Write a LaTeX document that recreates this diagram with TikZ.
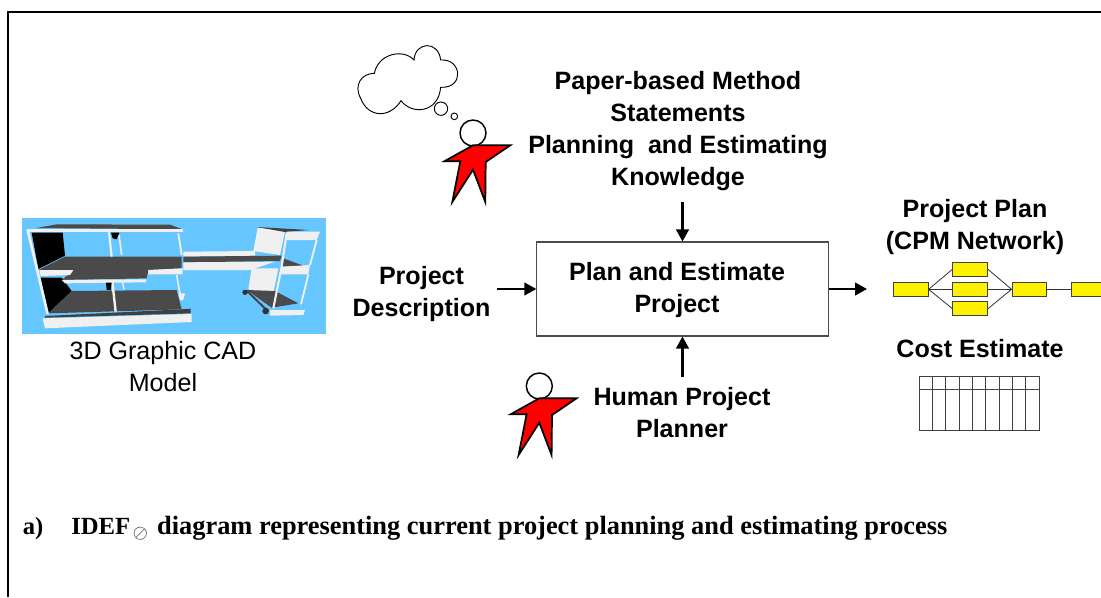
\documentclass[tikz,border=0pt]{standalone}
\usepackage{fontspec}
\setmainfont{Liberation Sans}
\newfontfamily\serifcap{Liberation Serif}
\usetikzlibrary{arrows.meta}
\definecolor{skyb}{HTML}{66C6FF}
\definecolor{slab}{HTML}{4A4A4A}
\definecolor{pale}{HTML}{F0F0F0}
\tikzset{
  lbl/.style={font=\fontsize{18.8pt}{24pt}\selectfont\bfseries,align=center,text=black,inner sep=0pt},
  reg/.style={font=\fontsize{18.8pt}{24pt}\selectfont,align=center,text=black,inner sep=0pt},
  capt/.style={anchor=base west,inner sep=0pt,font=\serifcap\fontsize{18.5pt}{22pt}\selectfont\bfseries},
  arr/.style={line width=1.7pt,-{Triangle[length=9pt,width=9.5pt]}},
  procbox/.style={draw=black!70,line width=0.8pt,fill=white,minimum width=218.5pt,minimum height=70.5pt,inner sep=0pt},
  act/.style={draw=black!75,line width=0.7pt,fill=yellow,minimum width=26pt,minimum height=10.5pt,inner sep=0pt},
  link/.style={draw=black!80,line width=0.6pt},
  tbl/.style={draw=black!75,line width=0.7pt},
  figbody/.style={draw=black,line width=1.3pt,fill=red,line join=miter},
  fighead/.style={draw=black,line width=1.1pt,fill=white},
  cloudline/.style={draw=black,line width=0.7pt,fill=white},
  person/.pic={
    \draw[fighead] (0,0) circle[radius=13];
    \draw[figbody] (0,12.3) -- (37.3,12.3) -- (12.7,29) -- (12.3,69) -- (0,36.7) -- (-20.7,69) -- (-12.7,28.3) -- (-28.7,28.3) -- cycle;
  }
}
\begin{document}
\begin{tikzpicture}[x=0.75pt,y=-0.75pt]
\useasboundingbox (0,0) rectangle (1101,597);
% frame
\draw[line width=1.5pt,line cap=butt] (8,597) -- (8,12) -- (1101,12);

% CAD model picture
\begin{scope}[shift={(0,200)},x=0.25pt,y=-0.25pt]
\fill[skyb] (66,54) rectangle (978,402);
% left building
\fill[slab] (110,84) -- (170,73) -- (510,74) -- (548,88) -- cycle;
\fill[black] (95,98) -- (188,98) -- (195,167) -- (115,207) -- cycle;
\fill[slab] (195,170) -- (545,170) -- (545,205) -- (445,210) -- (440,235) -- (185,240) -- (220,212) -- (115,210) -- cycle;
\fill[black] (122,233) -- (185,233) -- (215,273) -- (145,340) -- cycle;
\fill[slab] (215,273) -- (530,270) -- (545,328) -- (145,340) -- cycle;
\fill[pale] (128,355) -- (575,342) -- (575,366) -- (135,385) -- cycle;
\fill[black!75] (135,348) -- (545,328) -- (572,326) -- (572,340) -- (135,353) -- cycle;
\fill[pale] (118,210) -- (220,210) -- (210,225) -- (122,228) -- cycle;
\fill[pale] (185,240) -- (438,238) -- (438,247) -- (195,250) -- cycle;
\fill[pale] (445,210) -- (548,205) -- (548,223) -- (445,223) -- cycle;
\draw[pale,line width=2pt] (82,92) -- (550,92);
\draw[pale,line width=2pt] (83,90) -- (143,342);
\draw[pale,line width=1.6pt] (327,97) -- (335,170);
\draw[pale,line width=1.2pt] (357,105) -- (365,165);
\draw[pale,line width=1.8pt] (337,245) -- (347,335);
\draw[pale,line width=1pt] (367,245) -- (372,268);
\draw[pale,line width=1.4pt] (535,100) -- (545,165);
\draw[pale,line width=1.2pt] (530,225) -- (543,300);
\fill[black] (333,98) -- (358,98) -- (350,118) -- (338,115) -- cycle;
\fill[black] (318,248) -- (335,248) -- (332,270) -- (320,270) -- cycle;
\fill[pale] (535,280) -- (555,280) -- (550,300) -- (540,300) -- cycle;
% walkway
\fill[pale] (550,155) -- (765,153) -- (765,167) -- (550,170) -- cycle;
\fill[slab] (550,170) -- (845,167) -- (840,183) -- (550,187) -- cycle;
\fill[pale] (550,187) -- (825,185) -- (750,210) -- (550,210) -- cycle;
% right building
\fill[pale] (773,83) -- (855,93) -- (840,165) -- (760,153) -- cycle;
\fill[pale] (755,205) -- (835,205) -- (815,303) -- (745,267) -- cycle;
\fill[black!75] (770,81) -- (925,90) -- (855,96) -- cycle;
\fill[pale] (860,95) -- (960,95) -- (950,120) -- (860,120) -- cycle;
\fill[slab] (850,175) -- (910,197) -- (845,200) -- cycle;
\fill[pale] (845,200) -- (930,195) -- (925,223) -- (840,223) -- cycle;
\fill[slab] (740,270) -- (825,273) -- (895,310) -- (815,323) -- cycle;
\fill[pale] (810,330) -- (915,330) -- (910,345) -- (810,347) -- cycle;
\draw[pale,line width=1.4pt] (950,120) -- (930,195);
\draw[pale,line width=1.4pt] (925,223) -- (903,313);
\draw[pale,line width=1.6pt] (860,100) -- (845,200) -- (820,325);
\draw[black!75,line width=1.4pt] (740,272) -- (800,330);
\fill[black!80] (735,277) circle[radius=8];
\fill[black!80] (797,333) circle[radius=10];
\end{scope}
\node[reg] (cad) at (163,367) {3D Graphic CAD\\Model};

% cloud and thinker
\begin{scope}[shift={(340,30)},x=0.25pt,y=-0.25pt]
\draw[cloudline] (103,130) .. controls (115,70) and (190,55) .. (222,90)
  .. controls (225,35) and (295,30) .. (302,90)
  .. controls (365,85) and (375,175) .. (302,172)
  .. controls (295,250) and (215,255) .. (183,212)
  .. controls (150,265) and (85,265) .. (62,205)
  .. controls (40,165) and (65,130) .. (103,130) -- cycle;
\draw[cloudline] (303,236) circle[radius=20];
\draw[cloudline] (343,259) circle[radius=10];
\end{scope}
\pic at (473,133) {person};
\pic at (539.3,386) {person};

% central process
\node[procbox] (proc) at (682.5,289) {};
\node[lbl] (proctext) at (677,290) {Plan and Estimate\\Project};
\node[lbl] (knowledge) at (678,131) {Paper-based Method\\Statements\\Planning\ \ and Estimating\\Knowledge};
\node[lbl] (desc) at (421.5,294) {Project\\Description};
\node[lbl] (planner) at (682,413) {Human Project\\Planner};
\node[lbl] (plan) at (975,227) {Project Plan\\(CPM Network)};
\node[lbl] (cost) at (980,349) {Cost Estimate};

\coordinate (topend) at (682.5,202);
\coordinate (botend) at (682.5,377);
\coordinate (leftend) at (497,289);
\coordinate (rightend) at (867,289);
\draw[arr] (topend) -- (proc.north);
\draw[arr] (botend) -- (proc.south);
\draw[arr] (leftend) -- (proc.west);
\draw[arr] (proc.east) -- (rightend);

% CPM network
\begin{scope}
\clip (880,250) rectangle (1101,330);
\node[act] (a1) at (910.8,289.3) {};
\node[act] (b1) at (970.2,269.3) {};
\node[act] (b2) at (970.2,289.3) {};
\node[act] (b3) at (970.2,308.7) {};
\node[act] (c1) at (1029.3,289.3) {};
\node[act] (d1) at (1088.5,289.3) {};
\draw[link] (a1.east) -- (b1.west);
\draw[link] (a1.east) -- (b2.west);
\draw[link] (a1.east) -- (b3.west);
\draw[link] (b1.east) -- (c1.west);
\draw[link] (b2.east) -- (c1.west);
\draw[link] (b3.east) -- (c1.west);
\draw[link] (c1.east) -- (d1.west);
\end{scope}

% cost table
\draw[tbl] (919.3,376.7) rectangle (1039.3,430);
\draw[tbl] (919.3,389.5) -- (1039.3,389.5);
\foreach \i in {1,...,8} \draw[tbl] ({919.3+\i*13.33},376.7) -- ({919.3+\i*13.33},430);

% caption
\node[capt] (capa) at (22.5,534) {a)};
\node[capt] (capb) at (71,534) {IDEF\kern2pt\raisebox{-3pt}{\fontsize{14pt}{14pt}\selectfont$\oslash$}\kern7pt{\fontsize{19.8pt}{22pt}\selectfont diagram representing current project planning and estimating process}};
\end{tikzpicture}
\end{document}
